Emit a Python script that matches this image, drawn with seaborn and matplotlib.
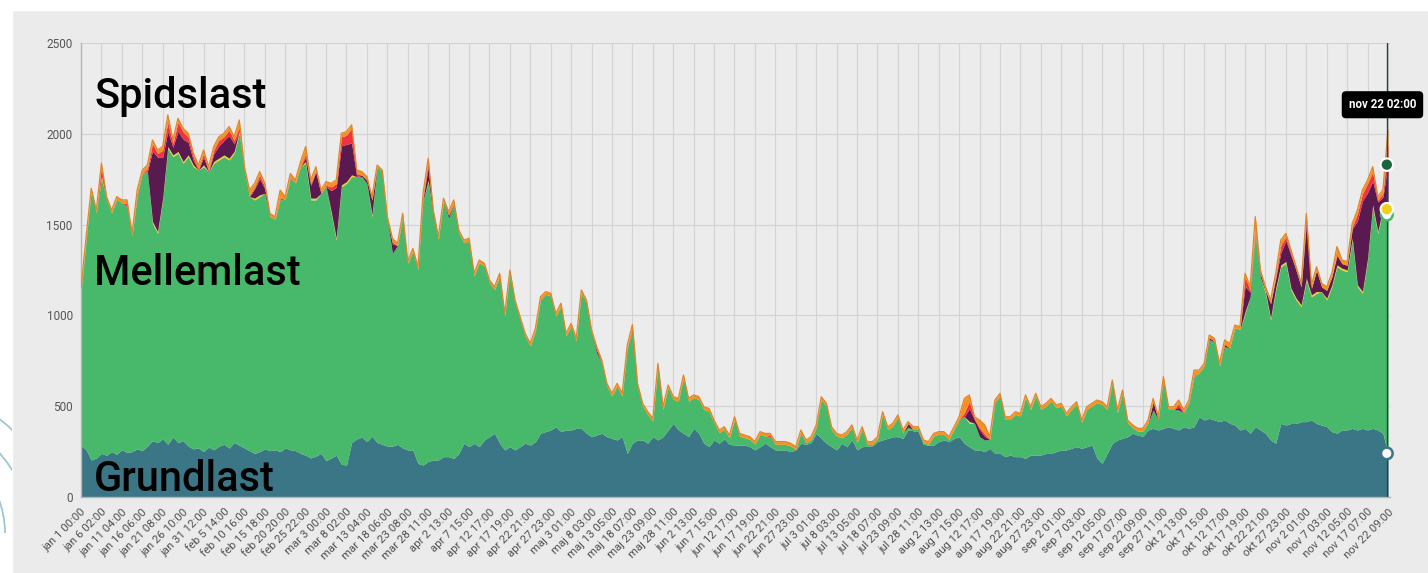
"""Stacked hourly load chart: Grundlast / Mellemlast / Spidslast."""

import matplotlib.pyplot as plt
import numpy as np
import pandas as pd
import seaborn as sns
from matplotlib.patches import Arc, Rectangle

# x-axis labels, one every 122 hours
tick_labels = [
    "jan 1 00:00", "jan 6 02:00", "jan 11 04:00", "jan 16 06:00", "jan 21 08:00",
    "jan 26 10:00", "jan 31 12:00", "feb 5 14:00", "feb 10 16:00", "feb 15 18:00",
    "feb 20 20:00", "feb 25 22:00", "mar 3 00:00", "mar 8 02:00", "mar 13 04:00",
    "mar 18 06:00", "mar 23 08:00", "mar 28 11:00", "apr 2 13:00", "apr 7 15:00",
    "apr 12 17:00", "apr 17 19:00", "apr 22 21:00", "apr 27 23:00", "maj 3 01:00",
    "maj 8 03:00", "maj 13 05:00", "maj 18 07:00", "maj 23 09:00", "maj 28 11:00",
    "jun 2 13:00", "jun 7 15:00", "jun 12 17:00", "jun 17 19:00", "jun 22 21:00",
    "jun 27 23:00", "jul 3 01:00", "jul 8 03:00", "jul 13 05:00", "jul 18 07:00",
    "jul 23 09:00", "jul 28 11:00", "aug 2 13:00", "aug 7 15:00", "aug 12 17:00",
    "aug 17 19:00", "aug 22 21:00", "aug 27 23:00", "sep 2 01:00", "sep 7 03:00",
    "sep 12 05:00", "sep 17 07:00", "sep 22 09:00", "sep 27 11:00", "okt 2 13:00",
    "okt 7 15:00", "okt 12 17:00", "okt 17 19:00", "okt 22 21:00", "okt 27 23:00",
    "nov 2 01:00", "nov 7 03:00", "nov 12 05:00", "nov 17 07:00", "nov 22 09:00",
]
tooltip_label = "nov 22 02:00"

# MW per layer (4 readings per tick interval)
grundlast = [
    286, 260, 204, 215, 240, 230, 250, 235, 260, 245, 250, 265, 255, 280, 310, 300,
    320, 290, 330, 300, 310, 280, 265, 270, 250, 275, 260, 280, 290, 270, 300, 285,
    270, 255, 240, 250, 265, 255, 260, 250, 270, 260, 255, 240, 230, 215, 225, 240,
    200, 215, 230, 180, 176, 300, 320, 330, 305, 335, 300, 290, 280, 280, 290, 270,
    259, 259, 185, 176, 195, 204, 204, 222, 222, 213, 240, 296, 277, 296, 277, 314,
    332, 351, 296, 259, 277, 259, 277, 296, 286, 305, 351, 360, 369, 387, 360, 369,
    369, 378, 378, 351, 332, 341, 351, 332, 323, 314, 332, 240, 296, 314, 314, 296,
    332, 314, 332, 369, 406, 369, 351, 332, 378, 351, 296, 277, 314, 296, 320, 290,
    286, 286, 286, 277, 259, 277, 296, 277, 259, 259, 259, 250, 259, 296, 290, 300,
    350, 323, 296, 277, 259, 296, 277, 314, 259, 277, 280, 282, 305, 314, 323, 332,
    332, 323, 370, 365, 360, 290, 285, 286, 305, 314, 305, 323, 332, 296, 277, 259,
    259, 250, 268, 240, 240, 222, 231, 222, 222, 213, 231, 231, 231, 240, 240, 250,
    259, 259, 268, 277, 268, 277, 286, 213, 185, 240, 296, 314, 323, 332, 351, 340,
    335, 369, 378, 369, 378, 387, 378, 369, 387, 378, 387, 442, 424, 433, 424, 415,
    424, 406, 396, 369, 378, 351, 387, 369, 351, 314, 296, 405, 396, 405, 405, 415,
    415, 424, 405, 396, 387, 360, 351, 369, 369, 378, 369, 378, 369, 378, 369, 351,
    240,
]
mellemlast = [
    844, 1155, 1481, 1350, 1515, 1410, 1315, 1405, 1360, 1355, 1190, 1389, 1527, 1512, 1197, 1152,
    1316, 1630, 1544, 1593, 1528, 1594, 1554, 1530, 1569, 1517, 1578, 1576, 1584, 1586, 1593, 1718,
    1530, 1399, 1396, 1404, 1407, 1290, 1270, 1386, 1370, 1495, 1475, 1579, 1608, 1421, 1411, 1432,
    1509, 1347, 1185, 1529, 1551, 1464, 1444, 1434, 1422, 1209, 1519, 1502, 1250, 1062, 1095, 1275,
    1026, 1095, 1068, 1457, 1540, 1346, 1215, 1408, 1314, 1398, 1215, 1104, 1133, 921, 1013, 958,
    848, 792, 921, 737, 958, 811, 701, 590, 545, 609, 737, 756, 738, 609, 692, 517,
    572, 481, 747, 719, 573, 452, 388, 279, 233, 297, 224, 582, 614, 297, 187, 159,
    86, 407, 150, 233, 132, 159, 306, 196, 169, 187, 186, 196, 95, 58, 52, 36,
    141, 49, 40, 40, 31, 68, 39, 53, 31, 31, 31, 31, 3, 58, 9, 17,
    32, 214, 205, 95, 76, 30, 68, 68, 40, 95, 10, 8, 12, 141, 49, 59,
    105, 31, 15, 7, 12, 9, 5, 49, 40, 31, 12, 49, 95, 147, 129, 147,
    73, 64, 49, 279, 316, 205, 196, 233, 224, 334, 251, 325, 251, 261, 288, 242,
    242, 187, 214, 233, 141, 205, 215, 306, 325, 242, 333, 150, 251, 77, 30, 23,
    28, 40, 101, 58, 270, 95, 104, 110, 77, 141, 276, 242, 297, 432, 435, 306,
    404, 415, 536, 554, 633, 752, 1065, 841, 771, 661, 844, 863, 891, 735, 680, 633,
    780, 679, 717, 734, 698, 798, 917, 881, 871, 1037, 789, 744, 936, 1221, 1083, 1229,
    1315,
]
gul = [
    0, 0, 0, 0, 10, 0, 0, 0, 0, 0, 0, 0, 0, 0, 10, 10,
    10, 10, 10, 10, 10, 10, 10, 0, 10, 0, 10, 10, 10, 10, 10, 10,
    0, 0, 10, 10, 0, 0, 0, 0, 0, 0, 0, 0, 10, 10, 10, 0,
    0, 10, 10, 10, 10, 10, 0, 0, 0, 10, 0, 0, 0, 0, 0, 0,
    0, 0, 0, 0, 10, 0, 0, 0, 0, 0, 0, 0, 0, 0, 0, 0,
    0, 0, 0, 0, 0, 0, 0, 0, 0, 0, 0, 0, 0, 0, 0, 0,
    0, 0, 0, 0, 0, 0, 0, 0, 0, 0, 0, 0, 0, 0, 0, 0,
    0, 0, 0, 0, 0, 0, 0, 0, 0, 0, 0, 0, 0, 0, 0, 0,
    0, 0, 0, 0, 0, 0, 0, 0, 0, 0, 0, 0, 0, 0, 0, 0,
    0, 0, 0, 0, 0, 0, 0, 0, 0, 0, 0, 0, 0, 0, 0, 0,
    0, 0, 0, 0, 0, 0, 0, 0, 0, 0, 0, 0, 0, 0, 10, 0,
    0, 0, 0, 0, 0, 0, 0, 0, 0, 0, 0, 0, 0, 0, 0, 0,
    0, 0, 0, 0, 0, 0, 0, 0, 0, 0, 0, 0, 0, 0, 0, 0,
    0, 0, 0, 0, 0, 0, 0, 0, 0, 0, 0, 0, 0, 0, 0, 0,
    0, 0, 0, 0, 10, 0, 10, 0, 10, 10, 10, 10, 10, 10, 10, 10,
    10, 10, 10, 0, 10, 10, 10, 10, 10, 10, 10, 10, 10, 10, 10, 10,
    30,
]
lilla = [
    0, 0, 0, 0, 0, 0, 0, 0, 0, 0, 0, 0, 0, 0, 389, 409,
    224, 84, 42, 112, 122, 69, 24, 0, 42, 0, 42, 68, 79, 124, 41, 0,
    0, 0, 51, 88, 25, 0, 0, 0, 0, 0, 0, 0, 20, 70, 143, 0,
    0, 115, 281, 214, 205, 175, 0, 8, 17, 80, 0, 0, 0, 52, 0, 0,
    0, 0, 0, 10, 70, 10, 0, 0, 15, 0, 0, 0, 0, 0, 0, 0,
    0, 0, 0, 0, 0, 0, 0, 0, 0, 0, 0, 0, 0, 0, 0, 0,
    0, 0, 0, 0, 0, 15, 0, 0, 0, 0, 0, 0, 0, 0, 0, 0,
    0, 0, 0, 0, 0, 0, 0, 0, 0, 0, 0, 0, 0, 0, 0, 0,
    0, 0, 0, 0, 0, 0, 0, 0, 0, 0, 0, 0, 0, 0, 0, 0,
    0, 0, 0, 0, 0, 0, 0, 0, 0, 0, 0, 0, 0, 0, 0, 0,
    0, 0, 20, 0, 0, 0, 0, 0, 0, 0, 0, 0, 0, 0, 70, 20,
    40, 20, 0, 0, 0, 0, 0, 0, 0, 0, 0, 0, 0, 0, 0, 0,
    0, 0, 0, 0, 0, 0, 0, 0, 0, 0, 0, 0, 0, 0, 0, 0,
    0, 0, 44, 0, 0, 0, 0, 15, 0, 0, 0, 0, 0, 12, 0, 0,
    12, 0, 0, 0, 140, 25, 0, 20, 6, 80, 52, 67, 115, 180, 153, 99,
    300, 35, 116, 27, 43, 44, 51, 25, 26, 52, 352, 499, 361, 130, 162, 61,
    245,
]
roed = [
    0, 0, 0, 0, 53, 0, 0, 0, 0, 16, 0, 10, 0, 16, 40, 20,
    40, 50, 20, 50, 40, 30, 20, 8, 20, 7, 20, 30, 20, 30, 20, 23,
    0, 6, 10, 20, 10, 0, 0, 10, 0, 7, 0, 0, 22, 10, 10, 0,
    8, 20, 20, 50, 50, 80, 17, 0, 0, 0, 0, 0, 0, 10, 0, 0,
    0, 0, 0, 10, 30, 0, 0, 0, 0, 10, 0, 0, 0, 0, 0, 0,
    0, 0, 0, 0, 0, 0, 0, 0, 0, 0, 0, 0, 0, 0, 0, 0,
    0, 0, 0, 0, 0, 5, 0, 0, 0, 0, 0, 0, 15, 0, 0, 0,
    0, 0, 0, 0, 0, 0, 0, 0, 0, 0, 0, 0, 0, 0, 0, 0,
    0, 0, 0, 0, 0, 0, 0, 10, 0, 0, 0, 0, 0, 0, 0, 0,
    0, 0, 0, 0, 0, 0, 0, 0, 0, 0, 0, 0, 0, 0, 0, 0,
    0, 0, 0, 0, 0, 0, 0, 0, 0, 0, 0, 0, 0, 20, 40, 6,
    10, 13, 0, 0, 0, 0, 0, 0, 0, 0, 0, 0, 0, 0, 0, 0,
    0, 0, 0, 0, 0, 0, 0, 0, 0, 0, 0, 0, 0, 0, 0, 0,
    0, 0, 0, 0, 0, 0, 0, 20, 0, 0, 6, 0, 0, 0, 0, 0,
    0, 0, 0, 0, 51, 10, 22, 0, 0, 0, 10, 40, 20, 10, 0, 0,
    37, 0, 0, 0, 0, 0, 10, 0, 0, 10, 40, 40, 50, 50, 10, 20,
    120,
]
orange = [
    20, 19, 15, 15, 20, 14, 15, 14, 16, 20, 12, 26, 19, 20, 20, 20,
    20, 40, 20, 20, 20, 20, 20, 20, 20, 20, 20, 20, 20, 20, 20, 40,
    19, 30, 20, 20, 20, 17, 14, 44, 14, 20, 16, 28, 40, 20, 20, 18,
    20, 20, 20, 20, 20, 20, 20, 20, 20, 20, 9, 9, 14, 20, 12, 17,
    15, 15, 15, 20, 20, 20, 15, 15, 20, 15, 15, 15, 15, 15, 15, 15,
    15, 15, 15, 15, 15, 15, 15, 15, 15, 15, 15, 15, 15, 15, 15, 15,
    15, 15, 15, 15, 15, 15, 15, 15, 15, 15, 15, 15, 25, 15, 15, 15,
    15, 15, 15, 15, 15, 15, 15, 15, 15, 15, 15, 15, 15, 15, 15, 15,
    15, 15, 15, 15, 15, 15, 15, 10, 15, 15, 15, 15, 15, 15, 15, 15,
    15, 15, 15, 15, 15, 15, 15, 15, 15, 15, 15, 15, 15, 15, 15, 15,
    15, 15, 10, 15, 15, 15, 15, 15, 15, 15, 15, 15, 15, 80, 36, 10,
    42, 50, 15, 15, 15, 15, 15, 15, 15, 15, 15, 15, 15, 15, 15, 15,
    15, 15, 15, 15, 15, 15, 15, 15, 15, 15, 15, 15, 15, 15, 15, 15,
    15, 15, 20, 15, 15, 15, 15, 20, 15, 15, 30, 15, 15, 15, 15, 15,
    25, 25, 15, 15, 20, 20, 60, 20, 20, 20, 20, 30, 20, 20, 20, 20,
    20, 20, 20, 20, 20, 20, 40, 20, 20, 20, 20, 20, 20, 30, 20, 20,
    70,
]

LAYER_COLORS = ["#3a7686", "#48b86a", "#f3cf1d", "#5a1a4f", "#ef3340", "#f7901e"]

sns.set_theme(style="whitegrid")
plt.rcParams["font.family"] = ["Roboto", "DejaVu Sans"]

fig = plt.figure(figsize=(14.28, 5.73), dpi=100, facecolor="#ebebeb")

# white page margin at top / left, with a bit of a logo showing in the left strip
top_strip = Rectangle((0, 1 - 10 / 573), 1, 10 / 573, transform=fig.transFigure,
                      color="white", zorder=0)
left_strip = Rectangle((0, 0), 12 / 1428, 1, transform=fig.transFigure,
                       color="white", zorder=0)
fig.patches.extend([top_strip, left_strip])
for r in [70, 95, 120, 145]:
    arc = Arc((-90 / 1428, 40 / 573), 2 * r / 1428, 2 * r / 573, theta1=0, theta2=90,
              transform=fig.transFigure, color="#9ec7d1", lw=1.3, zorder=1)
    arc.set_clip_path(left_strip)
    fig.patches.append(arc)

ax = fig.add_axes([81 / 1428, 76 / 573, 1309 / 1428, 454 / 573])
ax.set_facecolor("#ececec")

tick_hours = np.arange(len(tick_labels)) * 122
hours = np.arange(len(grundlast)) * 122 / 4

df = pd.DataFrame({
    "hour": hours,
    "Grundlast": grundlast,
    "Mellemlast": mellemlast,
    "Gul": gul,
    "Lilla": lilla,
    "Roed": roed,
    "Orange": orange,
})
layers = ["Grundlast", "Mellemlast", "Gul", "Lilla", "Roed", "Orange"]

ax.stackplot(df["hour"], *[df[c] for c in layers], colors=LAYER_COLORS,
             linewidth=0, zorder=2)
df["top"] = df[layers].sum(axis=1)
sns.lineplot(data=df, x="hour", y="top", color="#e0862a", lw=0.9, ax=ax, zorder=3)

# axes styling
ax.set_xlim(0, 7820)
ax.set_ylim(0, 2500)
ax.set_yticks(np.arange(0, 2501, 500))
ax.set_xticks(tick_hours)
ax.set_xticklabels(tick_labels, rotation=45, ha="right", rotation_mode="anchor",
                   fontsize=8.2, color="#505050")
ax.tick_params(axis="y", labelsize=8.5, labelcolor="#555555", length=4, color="#aaaaaa",
               pad=2)
ax.tick_params(axis="x", length=4, color="#bbbbbb", pad=3)
ax.set_xlabel("")
ax.set_ylabel("")
ax.grid(True, axis="both", color="#d3d3d3", lw=0.8)
ax.set_axisbelow(True)
for side in ["top", "right"]:
    ax.spines[side].set_visible(False)
for side in ["left", "bottom"]:
    ax.spines[side].set_visible(True)
    ax.spines[side].set_color("#b5b5b5")
    ax.spines[side].set_linewidth(1)

# big layer labels
label_style = dict(fontsize=30, fontweight="medium", color="black", va="center",
                   ha="left", zorder=5)
ax.text(78, 2208, "Spidslast", **label_style)
ax.text(78, 1228, "Mellemlast", **label_style)
ax.text(78, 99, "Grundlast", **label_style)

# hover cursor + tooltip at nov 22 02:00
cursor_hour = 7801
ax.axvline(cursor_hour, color="#1d4c3c", lw=1, zorder=6)
levels = np.cumsum([grundlast[-1], mellemlast[-1], gul[-1], lilla[-1]])
ax.scatter([cursor_hour] * 2, levels[:2], s=70, facecolor="white",
           edgecolor=[LAYER_COLORS[0], LAYER_COLORS[1]], linewidth=1.8, zorder=7, clip_on=False)
ax.scatter([cursor_hour] * 2, levels[2:], s=80, facecolor=[LAYER_COLORS[2], "#1c6440"],
           edgecolor="white", linewidth=1.5, zorder=8, clip_on=False)
ax.text(7775, 2160, tooltip_label, fontsize=8.3, fontweight="bold", color="white",
        ha="center", va="center", zorder=9, clip_on=False,
        bbox=dict(boxstyle="round,pad=0.55,rounding_size=0.3", fc="black", ec="black"))

fig.savefig("out.png", dpi=100, facecolor=fig.get_facecolor())
